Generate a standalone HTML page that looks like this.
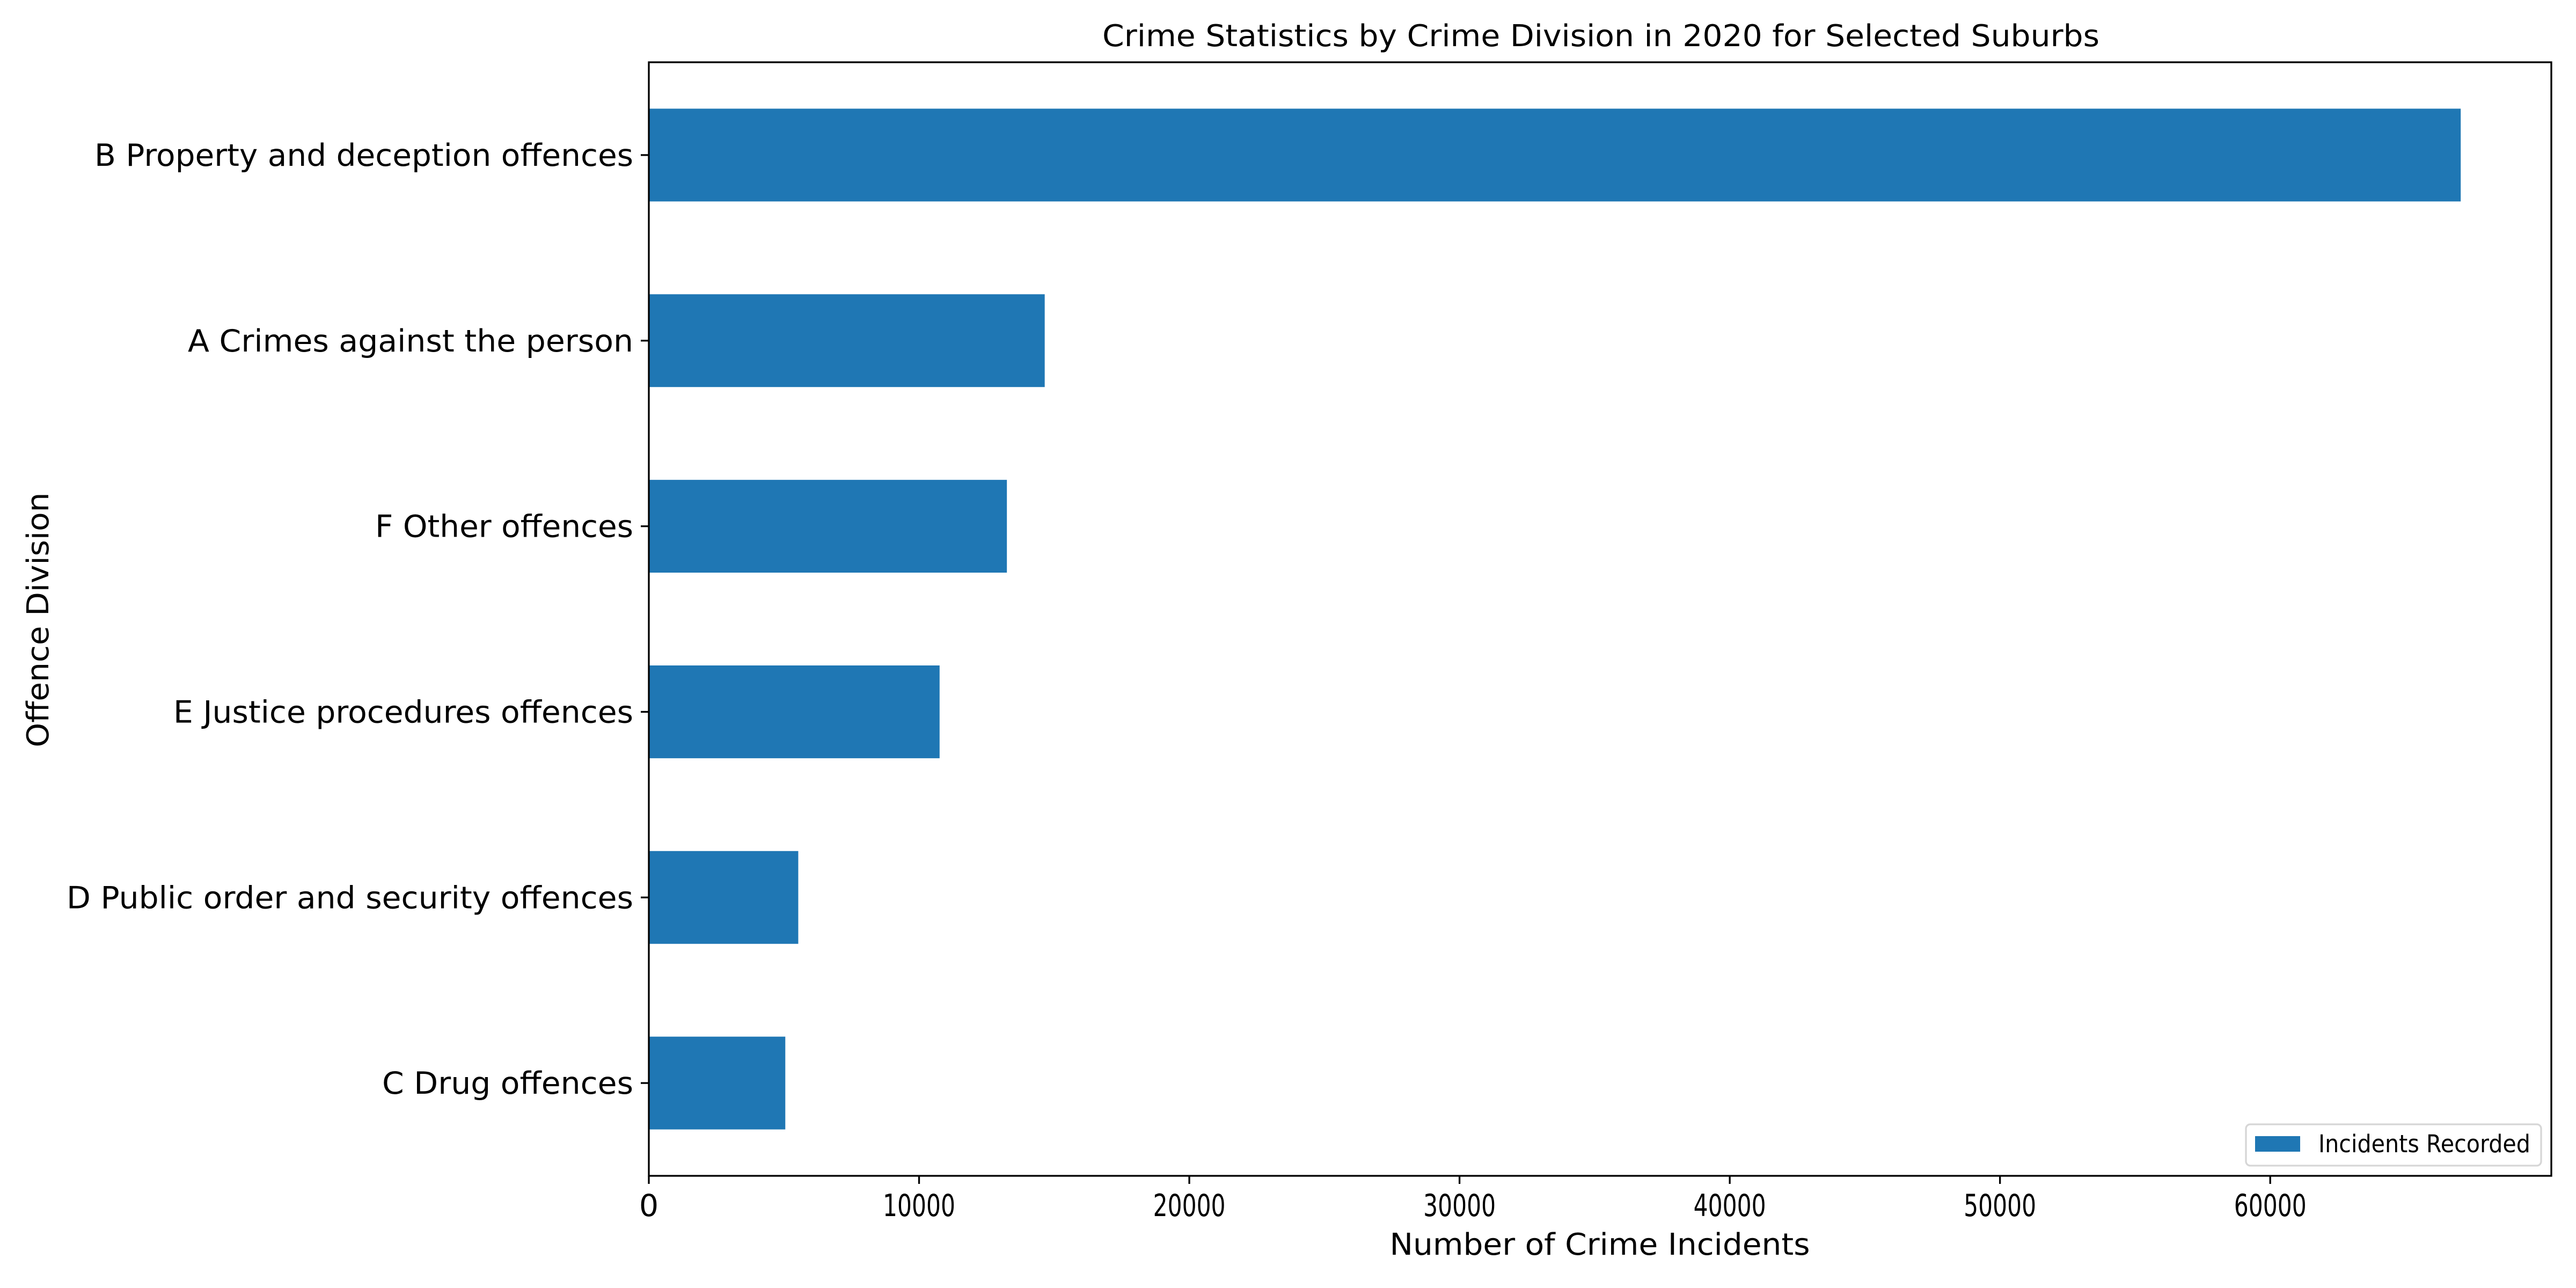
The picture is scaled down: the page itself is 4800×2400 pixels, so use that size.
<!DOCTYPE html>
<html><head><meta charset="utf-8"><style>
html,body{margin:0;padding:0;background:#fff;}
svg{display:block;}
text{font-family:"DejaVu Sans","Liberation Sans",sans-serif;fill:#000;}
</style></head><body>
<svg id="chart" width="4800" height="2400" viewBox="0 0 4800 2400" xmlns="http://www.w3.org/2000/svg">
<rect x="0" y="0" width="4800" height="2400" fill="#fff"/>
<text x="2983" y="86" font-size="56" text-anchor="middle" textLength="1858" lengthAdjust="spacingAndGlyphs">Crime Statistics by Crime Division in 2020 for Selected Suburbs</text>
<g id="bars"></g>
<g id="yticks"></g>
<g id="xticks"></g>
<rect x="1209" y="116" width="3545" height="2075" fill="none" stroke="#000" stroke-width="3.3"/>
<text x="2981" y="2338" font-size="56" text-anchor="middle" textLength="783" lengthAdjust="spacingAndGlyphs">Number of Crime Incidents</text>
<text transform="translate(90,1155) rotate(-90)" font-size="56" text-anchor="middle" textLength="475" lengthAdjust="spacingAndGlyphs">Offence Division</text>
<g>
<rect x="4185" y="2095" width="550" height="77" rx="8" fill="#fff" stroke="#d6d6d6" stroke-width="3.3"/>
<rect x="4202" y="2117" width="84" height="29" fill="#1f77b4"/>
<text x="4320" y="2147" font-size="45" textLength="395" lengthAdjust="spacingAndGlyphs">Incidents Recorded</text>
</g>
</svg>
<script>
const categories = ["B Property and deception offences","A Crimes against the person","F Other offences","E Justice procedures offences","D Public order and security offences","C Drug offences"];
const values = [67050, 14650, 13250, 10760, 5530, 5050];
const xTicks = [0, 10000, 20000, 30000, 40000, 50000, 60000];
const xTickLabels = ["0","10000","20000","30000","40000","50000","60000"];
const labelWidths = [1004, 830, 481, 857, 1056, 468];

const NS = "http://www.w3.org/2000/svg";
const L = 1209, R = 4754, T = 116, B = 2191;
const xMax = Math.max(...values) * 1.05;
function xs(v){ return L + (v / xMax) * (R - L); }
const step = (B - T) / categories.length;
function yc(i){ return T + step * (i + 0.5); }
function mk(tag, attrs){ const e = document.createElementNS(NS, tag); for (const k in attrs) e.setAttribute(k, attrs[k]); return e; }

const gb = document.getElementById('bars');
const gy = document.getElementById('yticks');
const gx = document.getElementById('xticks');

categories.forEach((c, i) => {
  const h = step * 0.5;
  const r = mk('rect', {x: xs(0), y: yc(i) - h/2, width: xs(values[i]) - xs(0), height: h, fill: '#1f77b4'});
  
  
  gb.appendChild(r);
  const tk = mk('line', {x1: L - 15, x2: L, y1: yc(i), y2: yc(i), stroke: '#000', 'stroke-width': 3.3});
  
  
  gy.appendChild(tk);
  const t = mk('text', {x: 1180, y: yc(i) + 20, 'font-size': 57, 'text-anchor': 'end', textLength: labelWidths[i], lengthAdjust: 'spacingAndGlyphs'});
  t.textContent = c;
  
  
  gy.appendChild(t);
});

xTicks.forEach((v, i) => {
  const tk = mk('line', {x1: xs(v), x2: xs(v), y1: B, y2: B + 15, stroke: '#000', 'stroke-width': 3.3});
  
  
  gx.appendChild(tk);
  const t = mk('text', {x: xs(v), y: 2266, 'font-size': 57, 'text-anchor': 'middle'});
  if (xTickLabels[i].length > 1) { t.setAttribute('textLength', 135); t.setAttribute('lengthAdjust', 'spacingAndGlyphs'); }
  t.textContent = xTickLabels[i];
  
  
  gx.appendChild(t);
});
</script>
</body></html>
